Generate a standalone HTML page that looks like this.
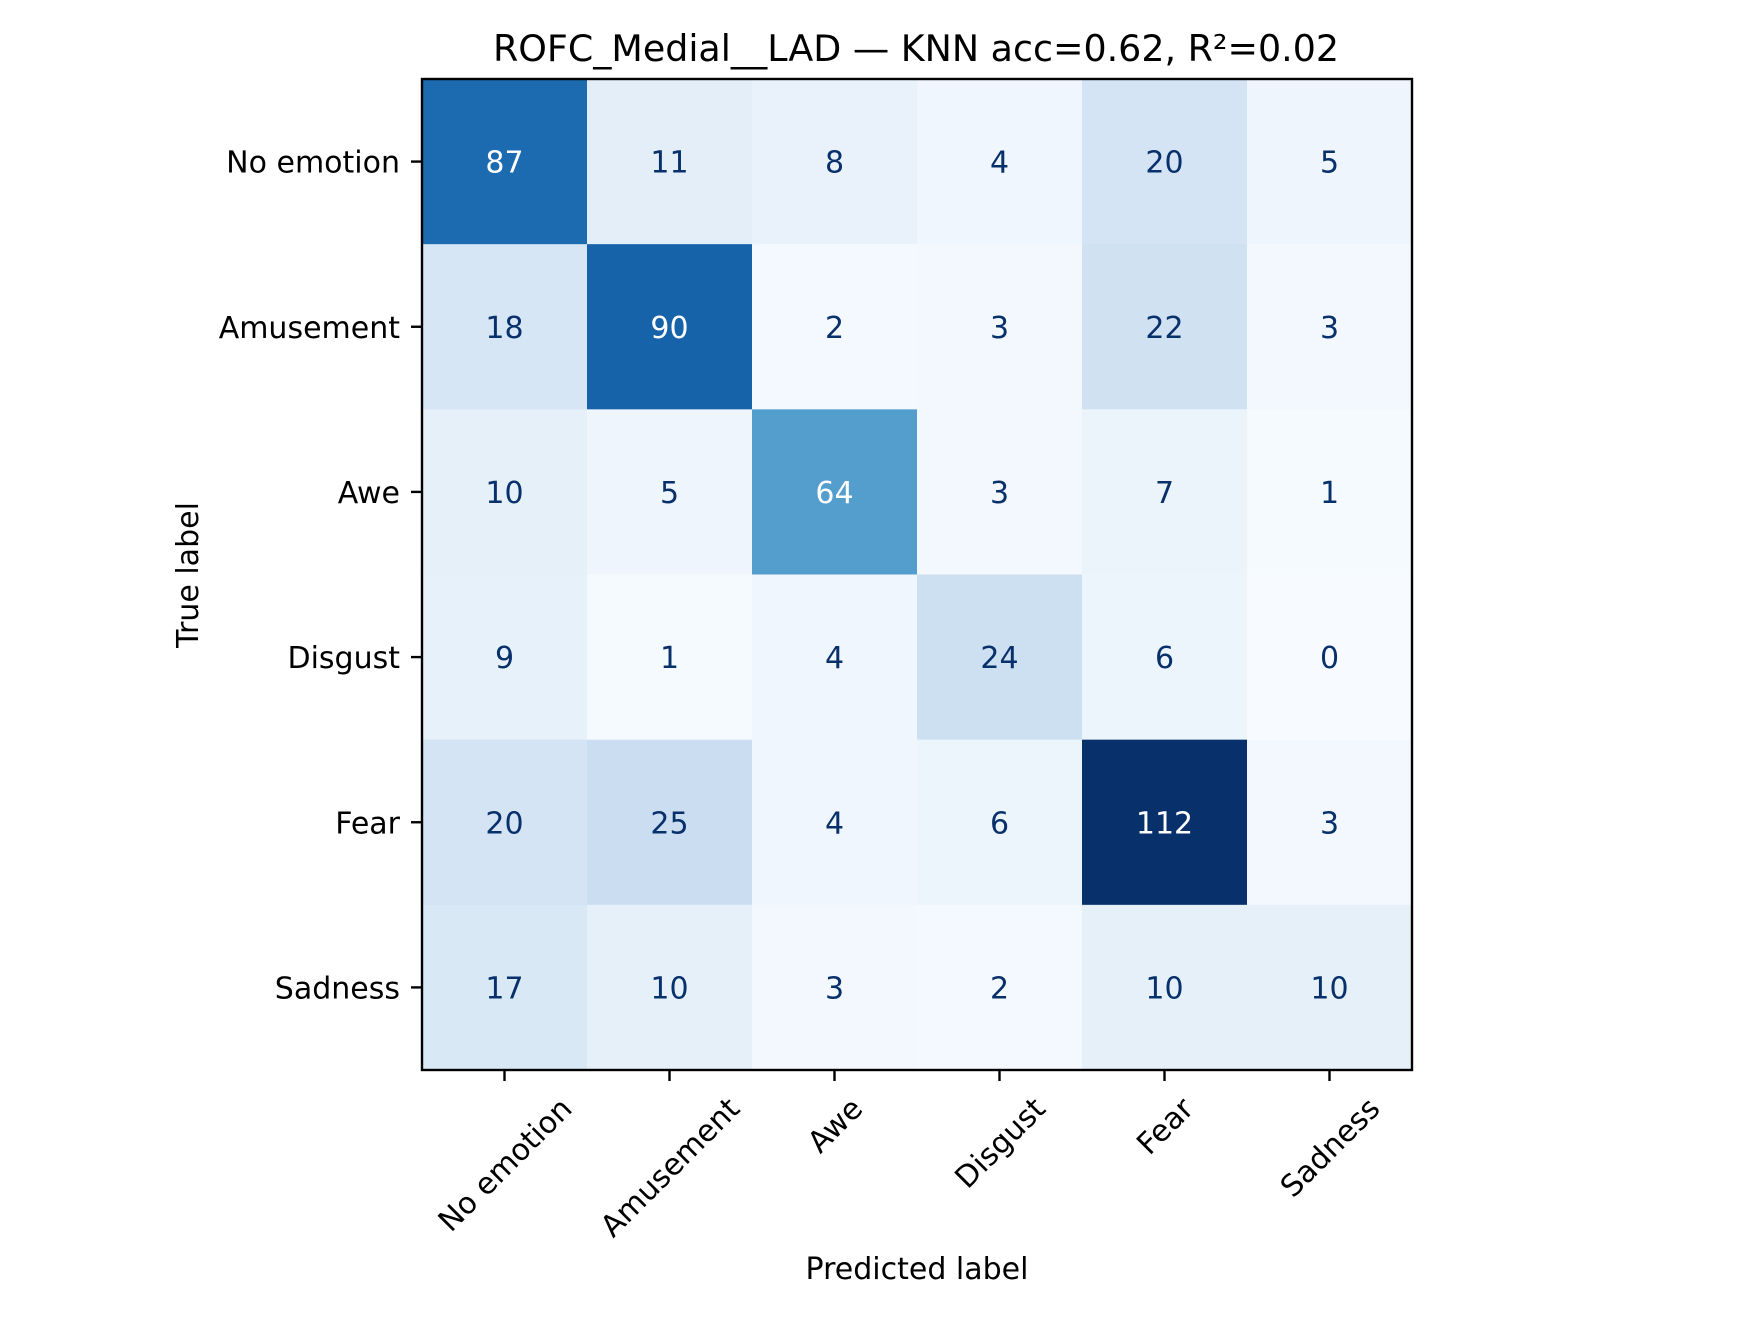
<!DOCTYPE html>
<html><head><meta charset="utf-8"><style>
html,body{margin:0;padding:0;background:#fff;}
svg{display:block;font-family:"DejaVu Sans","Liberation Sans",sans-serif;}
</style></head><body>
<svg id="chart" width="1760" height="1320" viewBox="0 0 1760 1320">
<text x="916" y="61" text-anchor="middle" font-size="36.4" fill="#000">ROFC_Medial__LAD — KNN acc=0.62, R²=0.02</text>
<g id="cells"></g>
<g id="ticks"></g>
<rect x="422" y="79" width="990" height="991" fill="none" stroke="#000" stroke-width="2.4"/>
<text transform="translate(198,575) rotate(-90)" text-anchor="middle" font-size="30" fill="#000">True label</text>
<text x="917" y="1279" text-anchor="middle" font-size="30" fill="#000">Predicted label</text>
</svg>
<script>
const classes = ["No emotion","Amusement","Awe","Disgust","Fear","Sadness"];
const row0 = [87,11,8,4,20,5];
const row1 = [18,90,2,3,22,3];
const row2 = [10,5,64,3,7,1];
const row3 = [9,1,4,24,6,0];
const row4 = [20,25,4,6,112,3];
const row5 = [17,10,3,2,10,10];
const matrix = [row0,row1,row2,row3,row4,row5];

const L=422,T=79,W=990,H=991;
const n=classes.length;
const cw=W/n, ch=H/n;
const xc=j=>L+cw*(j+0.5);
const yc=i=>T+ch*(i+0.5);
const blues=["#f7fbff","#deebf7","#c6dbef","#9ecae1","#6baed6","#4292c6","#2171b5","#08519c","#08306b"];
const hx=h=>[1,3,5].map(k=>parseInt(h.substr(k,2),16));
function cmap(t){t=Math.max(0,Math.min(1,t));const p=t*(blues.length-1);const k=Math.min(Math.floor(p),blues.length-2);const f=p-k;const a=hx(blues[k]),b=hx(blues[k+1]);return "rgb("+a.map((v,q)=>Math.round(v+(b[q]-v)*f)).join(",")+")";}
const all=matrix.flat();const vmax=Math.max(...all),vmin=Math.min(...all);const thr=(vmax+vmin)/2;
const NS="http://www.w3.org/2000/svg";
const cells=document.getElementById("cells"),ticks=document.getElementById("ticks");
for(let i=0;i<n;i++)for(let j=0;j<n;j++){
 const v=matrix[i][j];
 const r=document.createElementNS(NS,"rect");
 r.setAttribute("x",L+cw*j);r.setAttribute("y",T+ch*i);r.setAttribute("width",cw+0.5);r.setAttribute("height",ch+0.5);
 r.setAttribute("fill",cmap((v-vmin)/(vmax-vmin)));
 
 
 cells.appendChild(r);
 const t=document.createElementNS(NS,"text");
 t.setAttribute("x",xc(j));t.setAttribute("y",yc(i)+11);t.setAttribute("text-anchor","middle");t.setAttribute("font-size","30");
 t.setAttribute("fill",v>thr?"#ffffff":"#08306b");t.textContent=v;
 
 
 cells.appendChild(t);
}
for(let k=0;k<n;k++){
 const ly=document.createElementNS(NS,"line");
 ly.setAttribute("x1",L-11);ly.setAttribute("x2",L);ly.setAttribute("y1",yc(k));ly.setAttribute("y2",yc(k));ly.setAttribute("stroke","#000");ly.setAttribute("stroke-width","2.4");
 
 
 ticks.appendChild(ly);
 const ty=document.createElementNS(NS,"text");
 ty.setAttribute("x",L-22);ty.setAttribute("y",yc(k)+11);ty.setAttribute("text-anchor","end");ty.setAttribute("font-size","30");ty.textContent=classes[k];
 
 
 ticks.appendChild(ty);
 const lx=document.createElementNS(NS,"line");
 lx.setAttribute("x1",xc(k));lx.setAttribute("x2",xc(k));lx.setAttribute("y1",T+H);lx.setAttribute("y2",T+H+11);lx.setAttribute("stroke","#000");lx.setAttribute("stroke-width","2.4");
 
 
 ticks.appendChild(lx);
 const tx=document.createElementNS(NS,"text");
 tx.setAttribute("text-anchor","middle");tx.setAttribute("font-size","30");tx.textContent=classes[k];
 
 
 ticks.appendChild(tx);
 const w=tx.getComputedTextLength();
 const hgt=30;
 const bb=(w+hgt)*Math.SQRT1_2;
 const cy=T+H+22+bb/2;
 tx.setAttribute("transform","translate("+xc(k)+","+cy+") rotate(-45) translate(0,11)");
}
</script>
</body></html>
